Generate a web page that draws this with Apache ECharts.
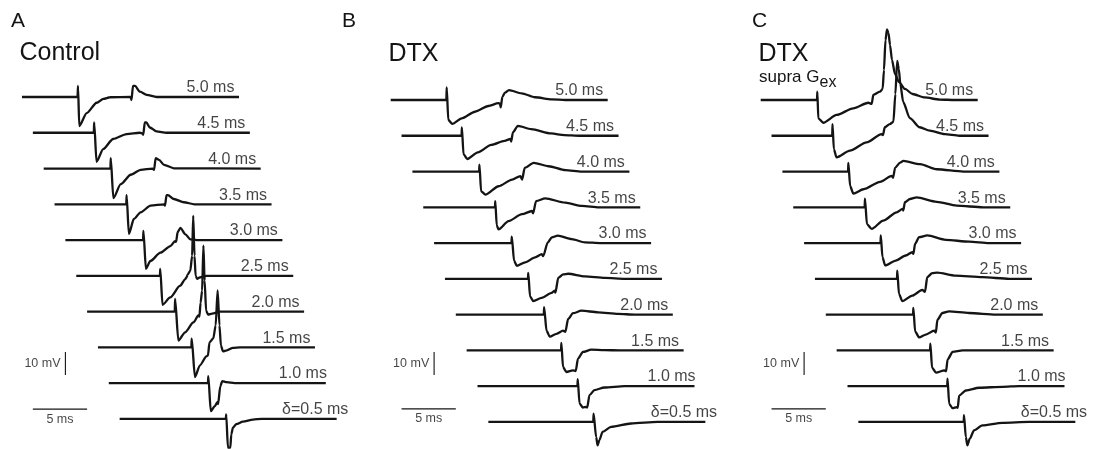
<!DOCTYPE html>
<html>
<head>
<meta charset="utf-8">
<script src="https://cdn.jsdelivr.net/npm/echarts@6/dist/echarts.min.js"></script>
<style>
  html, body { margin: 0; padding: 0; background: #fff; }
  #chart { width: 1095px; height: 449px; }
</style>
</head>
<body>
<div id="chart"></div>
<script>
// ---------------- DATA ----------------
// Each trace: [time (ms from trace start), membrane potential (mV from its baseline)]
const panelTitles = ['Control', 'DTX', 'DTX'];
const panelLetters = ['A', 'B', 'C'];
const traceLabels = ['5.0 ms', '4.5 ms', '4.0 ms', '3.5 ms', '3.0 ms', '2.5 ms', '2.0 ms', '1.5 ms', '1.0 ms', 'δ=0.5 ms'];
const scaleBarMs = 5;
const scaleBarMv = 10;

// Panel A: Control
const A50 = [[0,0],[5.12,0],[5.16,4.8],[5.28,-12.6],[5.96,-7.0],[6.88,-2.5],[7.5,-0.8],[8.11,-0.1],[10.0,0],[10.09,-1.3],[10.23,4.8],[10.41,4.8],[10.87,2.3],[11.49,0.9],[12.41,0],[20,0]];
const A45 = [[0,0],[5.62,0],[5.65,4.5],[5.87,-12.6],[6.48,-7.1],[7.40,-2.7],[8.64,-0.6],[9.86,0],[10.11,-0.3],[10.17,-0.9],[10.32,4.5],[10.46,4.5],[10.78,2.3],[11.40,0.6],[12.32,0],[20,0]];
const A40 = [[0,0],[6.15,0],[6.18,4.5],[6.42,-12.9],[7.10,-6.8],[8.02,-2.7],[8.94,-0.6],[10.02,0],[10.17,-0.6],[10.32,4.5],[10.63,3.8],[11.09,1.6],[12.0,0.1],[20,0]];
const A35 = [[0,0],[6.61,0],[6.64,4.0],[6.85,-12.9],[7.31,-6.4],[7.93,-3.5],[8.85,-0.6],[10.1,0],[10.18,-0.6],[10.32,4.0],[10.45,4.0],[11.0,2.3],[11.92,0.9],[12.9,0],[20,0]];
const A30 = [[0,0],[7.16,0],[7.19,4.0],[7.42,-12.5],[7.83,-9.1],[8.76,-5.5],[9.68,-2.6],[10.1,-0.5],[10.2,-0.8],[10.35,3.5],[10.6,5.3],[11.06,2.5],[11.52,0.3],[12.1,0],[20,0]];
const A25 = [[0,0],[7.71,0],[7.74,3.0],[7.95,-12.6],[8.66,-9.4],[9.58,-4.3],[10.05,-1.4],[10.18,-0.6],[10.25,0.4],[10.51,2.2],[10.68,8.7],[10.78,26.1],[10.9,8.7],[11.0,0],[11.15,-1.3],[11.38,-0.7],[11.98,0],[20,0]];
const A20 = [[0,0],[8.08,0],[8.11,5.5],[8.41,-12.6],[9.03,-9.0],[9.8,-4.7],[10.26,-1.7],[10.35,-2.2],[10.46,3.9],[10.6,9.1],[10.72,28.7],[10.83,13.5],[10.97,0.4],[11.15,-1.3],[11.52,-0.9],[12.26,0],[20,0]];
const A15 = [[0,0],[8.61,0],[8.64,3.8],[8.94,-12.9],[9.4,-7.8],[10.0,-3.9],[10.14,-3.5],[10.28,2.2],[10.63,3.9],[10.85,9.6],[11.03,24.8],[11.2,9.6],[11.33,0.9],[11.52,-1.7],[11.89,-1.3],[12.44,-0.2],[13.1,0],[20,0]];
const A10 = [[0,0],[9.14,0],[9.17,3.0],[9.4,-12.2],[9.77,-10.0],[10.0,-8.3],[10.07,-9.1],[10.28,-1.3],[10.46,0.9],[10.85,0.4],[11.6,0],[20,0]];
const A05 = [[0,0],[9.79,0],[9.82,2.0],[9.98,-12.5],[10.2,-12.5],[10.29,-6.7],[10.44,-3.8],[10.75,-2.3],[11.36,-1.2],[12.29,-0.3],[13.1,0],[20,0]];

// Panel B: DTX
const B50 = [[0,0],[5.13,0],[5.16,5.5],[5.31,-8.7],[5.68,-10.4],[6.54,-8.0],[7.77,-5.1],[9.0,-2.6],[9.92,-1.4],[10.07,-1.6],[10.14,-3.2],[10.29,1.4],[10.53,3.2],[10.9,4.3],[12.07,2.9],[13.3,1.2],[14.84,0.3],[16.1,0],[20,0]];
const B45 = [[0,0],[5.53,0],[5.56,3.6],[5.71,-8.0],[6.06,-10.1],[7.03,-7.2],[8.27,-4.0],[9.49,-2.2],[10.05,-1.4],[10.11,-2.5],[10.26,1.5],[10.72,4.3],[11.95,2.9],[13.8,1.0],[15.0,0.3],[16.4,0],[20,0]];
const B40 = [[0,0],[6.15,0],[6.18,3.0],[6.33,-8.6],[6.73,-10.0],[7.95,-6.4],[9.19,-3.5],[9.95,-2.0],[10.11,-3.5],[10.35,1.6],[11.18,3.8],[12.56,2.3],[14.1,0.6],[15.6,0],[20,0]];
const B35 = [[0,0],[6.61,0],[6.64,2.7],[6.77,-7.8],[6.94,-9.6],[7.86,-6.0],[9.1,-3.0],[10.02,-1.6],[10.12,-2.6],[10.4,2.7],[11.24,3.9],[13.09,2.0],[14.63,0.6],[16.2,0],[20,0]];
const B30 = [[0,0],[7.13,0],[7.16,2.8],[7.37,-7.7],[7.62,-9.9],[8.39,-8.4],[9.31,-6.2],[9.93,-4.8],[10.05,-5.7],[10.48,0.3],[10.85,2.5],[11.4,3.2],[12.69,1.7],[13.9,0.3],[15.3,0],[20,0]];
const B25 = [[0,0],[7.65,0],[7.68,2.6],[7.84,-7.6],[8.14,-9.7],[8.91,-8.3],[9.83,-6.1],[10.1,-5.1],[10.18,-6.0],[10.44,0.4],[10.9,1.9],[11.36,2.2],[12.9,1.1],[14.75,0.4],[16.6,0],[20,0]];
const B20 = [[0,0],[8.11,0],[8.14,3.2],[8.36,-7.0],[8.66,-9.6],[9.28,-8.4],[9.89,-7.0],[10.1,-7.5],[10.35,-1.9],[10.81,0.6],[11.58,1.7],[13.12,1.0],[14.96,0.3],[16.5,0],[20,0]];
const B15 = [[0,0],[8.7,0],[8.73,3.2],[8.88,-7.2],[9.19,-9.4],[9.8,-8.7],[10.05,-9.0],[10.26,-3.6],[10.72,-0.7],[11.49,0.3],[12.7,0.1],[14.1,0],[20,0]];
const B10 = [[0,0],[9.21,0],[9.24,3.0],[9.4,-7.5],[9.7,-9.3],[10.02,-9.0],[10.11,-9.3],[10.32,-3.9],[10.78,-1.7],[11.7,-0.6],[13.55,0],[20,0]];
const B05 = [[0,0],[9.67,0],[9.7,3.6],[9.93,-6.5],[10.07,-10.2],[10.23,-8.0],[10.53,-4.3],[11.31,-2.2],[13.15,-0.7],[15.6,0],[20,0]];

// Panel C: DTX, supra Gex
const C50 = [[0,0],[5.19,0],[5.22,3.6],[5.31,-8.0],[5.77,-9.9],[7.0,-6.5],[8.53,-3.6],[9.92,-1.2],[10.23,-1.7],[10.38,2.2],[10.99,3.6],[11.24,4.8],[11.36,13],[11.5,26],[11.64,30.7],[11.78,29.1],[11.92,23.9],[12.1,17.4],[12.38,11.3],[12.75,7.8],[13.3,4.8],[14.0,2.6],[15.1,1.1],[16.5,0.2],[17.9,0],[20,0]];
const C45 = [[0,0],[5.59,0],[5.62,5.1],[5.74,-5.8],[5.99,-9.4],[7.22,-6.5],[8.76,-2.9],[10.14,0.7],[10.26,0.3],[10.44,3.7],[10.9,5.1],[11.23,6.0],[11.41,18.1],[11.58,32.5],[11.73,29],[11.87,22.5],[12.13,14.7],[12.74,7.7],[13.66,3.7],[14.58,2.2],[15.96,0.7],[17.3,0],[20,0]];
const C40 = [[0,0],[6.05,0],[6.08,3.8],[6.24,-6.3],[6.54,-9.6],[7.47,-7.7],[9.0,-4.5],[10.08,-1.9],[10.2,-2.7],[10.39,1.7],[10.85,3.9],[11.15,4.6],[12.69,3.2],[14.23,1.0],[16.68,0],[20,0]];
const C35 = [[0,0],[6.58,0],[6.61,3.8],[6.79,-7.3],[7.23,-9.4],[8.29,-5.8],[9.53,-2.2],[10.08,-0.7],[10.14,-1.4],[10.29,2.2],[10.76,3.6],[11.37,4.3],[13.22,2.4],[15.06,0.7],[17.5,0],[20,0]];
const C30 = [[0,0],[7.04,0],[7.07,3.3],[7.22,-6.1],[7.47,-9.7],[8.45,-7.6],[9.37,-5.4],[9.98,-3.9],[10.07,-4.7],[10.23,-0.3],[10.6,2.6],[11.36,3.3],[13.06,1.4],[15.21,0.6],[17.05,0],[20,0]];
const C25 = [[0,0],[7.56,0],[7.59,3.6],[7.74,-6.5],[8.05,-9.7],[8.97,-7.3],[9.89,-4.8],[10.14,-5.7],[10.35,0.7],[10.81,2.5],[11.27,2.7],[12.97,1.4],[15.42,0.7],[17.9,0],[20,0]];
const C20 = [[0,0],[8.04,0],[8.07,2.9],[8.23,-7.3],[8.6,-9.9],[9.22,-8.7],[9.98,-7.0],[10.14,-7.8],[10.29,-2.2],[10.75,0.7],[11.36,1.4],[13.21,0.7],[15.67,0],[20,0]];
const C15 = [[0,0],[8.61,0],[8.64,2.9],[8.79,-7.5],[9.16,-9.7],[9.93,-8.7],[10.08,-9.1],[10.23,-3.9],[10.69,-0.7],[11.61,0],[20,0]];
const C10 = [[0,0],[9.19,0],[9.22,3.2],[9.37,-7.7],[9.68,-9.6],[10.08,-9.1],[10.16,-9.4],[10.29,-4.1],[10.91,-1.9],[12.14,-0.7],[14.29,-0.3],[15.8,0],[20,0]];
const C05 = [[0,0],[9.71,0],[9.74,2.9],[9.9,-6.5],[10.05,-10.2],[10.27,-7.3],[10.66,-3.7],[11.43,-1.5],[13.27,-0.4],[15.73,0],[20,0]];

const tracesA = [A50, A45, A40, A35, A30, A25, A20, A15, A10, A05];
const tracesB = [B50, B45, B40, B35, B30, B25, B20, B15, B10, B05];
const tracesC = [C50, C45, C40, C35, C30, C25, C20, C15, C10, C05];

// ---------------- LAYOUT ----------------
const PX_PER_MS = 10.85, PX_PER_MV = 2.3;
const X_MAX = 30.6, Y_MAX = 36, Y_MIN = -150;
const STEP_MS = 1.0, STEP_MV = -15.55;   // stacking offset between successive traces
const TRACE_END = 20;
const labelDx = [-0.42, -0.42, -0.42, -0.42, -0.42, -0.42, -0.42, -0.42, 0.1, 1.08];
const LABEL_DY = 4.0;
const FONT = '"Liberation Sans", Arial, Helvetica, sans-serif';
const INK = '#141414';

const panels = [
  { left: 22,    base: 97,  traces: tracesA, barY: -135.7, vbarBottom: -120.9 },
  { left: 390.7, base: 100, traces: tracesB, barY: -134.3, vbarBottom: -119.6 },
  { left: 760.7, base: 100, traces: tracesC, barY: -134.3, vbarBottom: -119.6 }
];

const grids = [], xAxes = [], yAxes = [], series = [];
panels.forEach((p, pi) => {
  grids.push({ left: p.left, top: p.base - Y_MAX * PX_PER_MV,
               width: X_MAX * PX_PER_MS, height: (Y_MAX - Y_MIN) * PX_PER_MV });
  xAxes.push({ gridIndex: pi, type: 'value', min: 0, max: X_MAX, show: false });
  yAxes.push({ gridIndex: pi, type: 'value', min: Y_MIN, max: Y_MAX, show: false });

  p.traces.forEach((tr, i) => {
    series.push({
      type: 'line', xAxisIndex: pi, yAxisIndex: pi,
      data: tr.map(([t, v]) => [t + i * STEP_MS, v + i * STEP_MV]),
      showSymbol: false, smooth: 0.25, smoothMonotone: 'x', clip: false,
      lineStyle: { color: INK, width: 2.3 }, silent: true, animation: false
    });
  });

  // trace labels
  series.push({
    type: 'scatter', xAxisIndex: pi, yAxisIndex: pi, symbolSize: 0, silent: true, animation: false, clip: false,
    data: traceLabels.map((txt, i) => ({
      value: [TRACE_END + i * STEP_MS + labelDx[i], i * STEP_MV + LABEL_DY], name: txt })),
    label: { show: true, position: [0, 0], align: 'right', verticalAlign: 'middle',
             formatter: d => d.name, fontSize: 16, fontFamily: FONT, color: INK }
  });

  // scale bars
  const bx = 1.0, vx = 4.0;
  series.push({
    type: 'line', xAxisIndex: pi, yAxisIndex: pi, showSymbol: false, clip: false, silent: true, animation: false,
    data: [[bx, p.barY], [bx + scaleBarMs, p.barY]],
    lineStyle: { color: INK, width: 1.1 }
  });
  series.push({
    type: 'line', xAxisIndex: pi, yAxisIndex: pi, showSymbol: false, clip: false, silent: true, animation: false,
    data: [[vx, p.vbarBottom], [vx, p.vbarBottom + scaleBarMv]],
    lineStyle: { color: INK, width: 1.1 }
  });
  series.push({
    type: 'scatter', xAxisIndex: pi, yAxisIndex: pi, symbolSize: 0, silent: true, animation: false, clip: false,
    data: [
      { value: [vx - 0.45, p.vbarBottom + scaleBarMv / 2], name: scaleBarMv + ' mV', label: { align: 'right' } },
      { value: [bx + scaleBarMs / 2, p.barY - 4.4], name: scaleBarMs + ' ms', label: { align: 'center' } }
    ],
    label: { show: true, position: [0, 0], verticalAlign: 'middle',
             formatter: d => d.name, fontSize: 12.5, fontFamily: FONT, color: INK }
  });
});

function txt(x, y, text, size) {
  return { type: 'text', x: x, y: y, silent: true,
           style: { text: text, font: size + 'px ' + FONT, fill: INK, align: 'left', verticalAlign: 'middle' } };
}
const graphics = [
  txt(11, 21.7, panelLetters[0], 21),
  txt(342, 21.7, panelLetters[1], 21),
  txt(752, 21.2, panelLetters[2], 21),
  txt(19.5, 53.6, panelTitles[0], 25),
  txt(388.5, 53.8, panelTitles[1], 25),
  txt(758.5, 54, panelTitles[2], 25),
  txt(759, 77.5, 'supra G', 17),
  txt(819.5, 82.5, 'ex', 16)
];

const chart = echarts.init(document.getElementById('chart'), null, { renderer: 'canvas' });
chart.setOption({
  animation: false,
  backgroundColor: '#ffffff',
  grid: grids, xAxis: xAxes, yAxis: yAxes, series: series,
  graphic: { elements: graphics }
});
</script>
</body>
</html>
